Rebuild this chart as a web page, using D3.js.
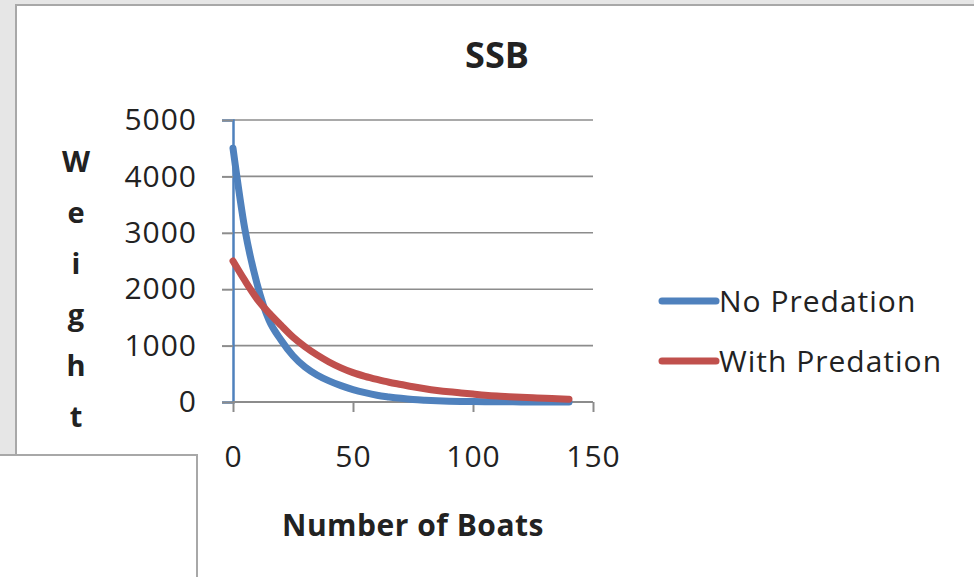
<!DOCTYPE html>
<html>
<head>
<meta charset="utf-8">
<script src="https://cdn.jsdelivr.net/npm/d3@7"></script>
<style>
  html, body { margin: 0; padding: 0; background: #e6e6e6; }
  svg { display: block; }
  text { font-family: "Open Sans", "Noto Sans", sans-serif; fill: #222; }
</style>
</head>
<body>
<svg id="chart" width="974" height="577"></svg>
<script>
const title = "SSB";
const xTitle = "Number of Boats";
const yTitle = "Weight";
const boats = [0,5,10,15,20,25,30,35,40,45,50,55,60,65,70,75,80,85,90,95,100,105,110,115,120,125,130,135,140];
const noPredation = [4500,3050,2100,1450,1100,820,620,480,375,290,220,165,120,90,65,45,32,22,15,10,7,5,4,3,2,2,1,1,1];
const withPredation = [2500,2150,1830,1580,1360,1150,980,835,710,605,520,455,400,350,310,270,235,205,180,160,140,120,105,95,85,75,65,58,50];
const xTicks = [0,50,100,150];
const yTicks = [0,1000,2000,3000,4000,5000];
const seriesNames = ["No Predation","With Predation"];
const seriesColors = ["#4f81bd","#c0504d"];

const svg = d3.select("#chart");

// background panels
svg.append("rect").attr("x",0).attr("y",0).attr("width",974).attr("height",577).attr("fill","#e6e6e6");
svg.append("rect").attr("x",16).attr("y",5).attr("width",960).attr("height",580)
  .attr("fill","#fff").attr("stroke","#a8a8a8").attr("stroke-width",2);
svg.append("rect").attr("x",-2).attr("y",455).attr("width",199).attr("height",130)
  .attr("fill","#fff").attr("stroke","#a8a8a8").attr("stroke-width",2);

const x = d3.scaleLinear().domain([0,150]).range([233,593]);
const y = d3.scaleLinear().domain([0,5000]).range([402,120]);

// gridlines
svg.append("g").selectAll("line").data(yTicks.filter(d=>d>0)).join("line")
  .attr("x1",x(0)).attr("x2",x(150)).attr("y1",d=>y(d)).attr("y2",d=>y(d))
  .attr("stroke","#8c8c8c").attr("stroke-width",1.6);

// y axis
const yAxis = svg.append("g").attr("transform",`translate(${x(0)},0)`)
  .call(d3.axisLeft(y).tickValues(yTicks).tickSize(11).tickPadding(25).tickFormat(d3.format("d")));
yAxis.select(".domain").attr("stroke","#4f81bd").attr("stroke-width",2.5);
yAxis.selectAll(".tick line").attr("stroke","#8c8c8c").attr("stroke-width",2);
yAxis.selectAll(".tick text").attr("font-size",30).attr("fill","#222").attr("letter-spacing",1)
  .style("font-family",'"Open Sans", sans-serif');

// x axis
const xAxis = svg.append("g").attr("transform",`translate(0,${y(0)})`)
  .call(d3.axisBottom(x).tickValues(xTicks).tickSize(10).tickPadding(34).tickFormat(d3.format("d")));
xAxis.select(".domain").attr("stroke","#8c8c8c").attr("stroke-width",2).attr("d",`M${x(0)},0H${x(150)}`);
xAxis.selectAll(".tick line").attr("stroke","#8c8c8c").attr("stroke-width",2);
xAxis.selectAll(".tick text").attr("font-size",30).attr("fill","#222").attr("letter-spacing",1)
  .style("font-family",'"Open Sans", sans-serif');

// lines
const line = d3.line().x((d,i)=>x(boats[i])).y(d=>y(d)).curve(d3.curveMonotoneX);
[noPredation, withPredation].forEach((s,i)=>{
  svg.append("path").datum(s).attr("d",line).attr("fill","none")
    .attr("stroke",seriesColors[i]).attr("stroke-width",7).attr("stroke-linecap","round").attr("stroke-linejoin","round");
});

// title
svg.append("text").attr("x",497).attr("y",68).attr("text-anchor","middle")
  .attr("font-size",36).attr("font-weight","bold").text(title);

// x title
svg.append("text").attr("x",413).attr("y",536).attr("text-anchor","middle")
  .attr("font-size",30).attr("font-weight","bold").attr("letter-spacing",0.5).text(xTitle);

// y title stacked
const yt = svg.append("text").attr("text-anchor","middle").attr("font-size",29).attr("font-weight","bold");
yTitle.split("").forEach((c,i)=>{
  yt.append("tspan").attr("x",76).attr("y",172 + i*51).text(c);
});

// legend
seriesNames.forEach((n,i)=>{
  const ly = 301 + i*60;
  svg.append("line").attr("x1",662).attr("x2",716).attr("y1",ly).attr("y2",ly)
    .attr("stroke",seriesColors[i]).attr("stroke-width",7).attr("stroke-linecap","round");
  svg.append("text").attr("x",719).attr("y",ly+11).attr("font-size",30).attr("letter-spacing",1).text(n);
});
</script>
</body>
</html>
